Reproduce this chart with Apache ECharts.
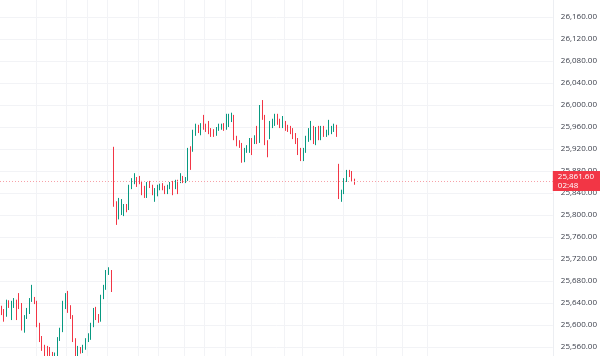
<!DOCTYPE html>
<html>
<head>
<meta charset="utf-8">
<script src="https://cdn.jsdelivr.net/npm/echarts@6/dist/echarts.min.js"></script>
<style>
html,body{margin:0;padding:0;background:#fff;overflow:hidden;width:600px;height:356px;}
#chart{position:absolute;left:0;top:-5px;width:600px;height:374px;}
</style>
</head>
<body>
<div id="chart"></div>
<script>
// total number of time slots shown on the x axis (data + empty future space)
const slotCount = 216;

// OHLC rows: [open, close, low, high]
const segmentA = [
  [25631,25622,25618,25635],[25627,25618,25606,25629],[25620,25640,25615,25646],[25642,25636,25631,25645],
  [25613,25640,25609,25644],[25636,25644,25631,25649],[25640,25613,25609,25646],[25640,25633,25629,25658],
  [25636,25596,25590,25640],[25596,25615,25586,25618],[25615,25627,25611,25631],[25624,25646,25620,25649],
  [25646,25649,25642,25673],[25649,25642,25638,25651],[25642,25600,25596,25644],[25600,25573,25569,25604],
  [25576,25558,25553,25580],[25560,25546,25538,25564],[25558,25549,25540,25562],[25555,25550,25542,25560],
  [25548,25535,25528,25551],[25535,25545,25525,25550],[25544,25576,25538,25578],[25576,25591,25571,25595],
  [25591,25640,25587,25644],[25633,25640,25629,25658],[25655,25627,25622,25662],[25633,25615,25611,25636],
  [25615,25573,25569,25618],[25573,25544,25536,25576],[25544,25558,25540,25562],[25556,25553,25548,25560],
  [25555,25560,25549,25564],[25560,25573,25555,25576],[25573,25582,25569,25585],[25578,25600,25573,25604],
  [25600,25627,25596,25631],[25618,25613,25609,25633],[25613,25609,25604,25620],[25609,25651,25606,25655],
  [25651,25669,25647,25673],[25669,25696,25664,25700],[25696,25700,25691,25705],[25696,25673,25660,25700]
];
const segmentB = [
  [25907,25822,25815,25924],[25822,25795,25782,25825],[25796,25815,25792,25831],[25805,25813,25800,25829],
  [25804,25815,25798,25820],[25815,25811,25805,25820],[25813,25851,25809,25855],[25851,25864,25847,25867],
  [25860,25867,25856,25876],[25864,25855,25851,25869],[25867,25860,25856,25871],[25858,25840,25836,25862],
  [25851,25836,25831,25853],[25836,25855,25831,25860],[25858,25853,25849,25862],[25851,25840,25836,25855],
  [25842,25846,25824,25849],[25838,25851,25834,25855],[25849,25853,25845,25857],[25855,25849,25845,25858],
  [25849,25842,25838,25853],[25842,25851,25838,25855],[25851,25856,25847,25860],[25858,25840,25836,25862],
  [25851,25860,25847,25864],[25860,25842,25838,25864],[25862,25867,25858,25876],[25867,25862,25858,25871],
  [25862,25866,25858,25869]
];
const segmentC = [
  [25867,25918,25862,25922],[25920,25910,25882,25925],[25927,25951,25915,25955],[25949,25960,25944,25966],
  [25960,25953,25949,25964],[25951,25964,25945,25967],[25967,25960,25955,25982],[25962,25955,25951,25966],
  [25958,25953,25947,25971],[25955,25945,25942,25958],[25953,25947,25942,25956],[25947,25957,25944,25960],
  [25957,25962,25953,25966],[25958,25962,25955,25966],[25964,25957,25953,25967],[25958,25966,25955,25984],
  [25964,25975,25960,25984],[25973,25982,25969,25986],[25978,25940,25936,25982],[25940,25931,25925,25944],
  [25933,25927,25922,25936],[25927,25913,25895,25931],[25915,25918,25896,25922],[25918,25922,25913,25927],
  [25918,25936,25913,25940],[25936,25913,25909,25940],[25933,25942,25929,25945],[25942,25933,25929,25962],
  [25936,25996,25931,26000],[25996,25978,25973,26009],[25978,25931,25927,25982],[25933,25918,25905,25936],
  [25942,25967,25938,25971],[25964,25971,25958,25975],[25967,25978,25962,25984],[25978,25969,25964,25984],
  [25971,25962,25958,25975],[25962,25967,25958,25980],[25967,25958,25953,25971],[25960,25955,25951,25964],
  [25958,25951,25947,25962],[25955,25942,25938,25958],[25945,25933,25929,25949],[25936,25913,25909,25940],
  [25918,25907,25898,25922],[25909,25918,25898,25922],[25918,25940,25913,25944],[25938,25955,25933,25958],
  [25940,25960,25936,25971],[25958,25933,25929,25962],[25931,25955,25927,25960],[25958,25940,25936,25962],
  [25940,25958,25936,25962],[25958,25947,25942,25962],[25945,25951,25942,25955],[25949,25955,25945,25973],
  [25951,25958,25947,25962],[25955,25962,25951,25966],[25962,25947,25942,25964]
];
const segmentD = [
  [25891,25833,25829,25893],[25833,25842,25824,25846],[25842,25864,25838,25867],[25864,25878,25860,25882],
  [25878,25873,25869,25882],[25875,25864,25860,25880],[25864,25861.6,25855,25866]
];

// price scale
const priceMin = 25520;
const priceMax = 26200;
const priceStep = 40;

// last price tag
const lastPrice = 25861.60;
const lastPriceText = '25,861.60';
const countdownText = '02:48';

// slots where vertical grid lines are drawn
const vGridSlots = [14, 26, 34, 42, 54, 62, 72, 80, 88, 98, 111, 118, 134, 147, 157, 167];

const ohlc = segmentA.concat(segmentB, segmentC, segmentD);
const categories = [];
for (let i = 0; i < slotCount; i++) categories.push(String(i));

const fmt = v => v.toLocaleString('en-US', {minimumFractionDigits: 2, maximumFractionDigits: 2});

const chart = echarts.init(document.getElementById('chart'), null, {renderer: 'canvas'});
chart.setOption({
  animation: false,
  backgroundColor: '#ffffff',
  grid: {left: 0, right: 43, top: 0, bottom: 0, containLabel: false},
  xAxis: {
    type: 'category',
    data: categories,
    boundaryGap: true,
    axisLine: {show: false},
    axisTick: {show: false},
    axisLabel: {show: false},
    splitLine: {
      show: true,
      interval: (idx) => vGridSlots.includes(idx),
      lineStyle: {color: '#f2f3f6', width: 1}
    }
  },
  yAxis: {
    type: 'value',
    position: 'right',
    min: priceMin,
    max: priceMax,
    interval: priceStep,
    axisLine: {show: true, lineStyle: {color: '#eceef2'}},
    axisTick: {show: false},
    axisLabel: {
      color: '#3a3e4a',
      fontSize: 8,
      fontFamily: 'Open Sans, sans-serif',
      margin: 8,
      showMaxLabel: false,
      showMinLabel: false,
      formatter: v => fmt(v)
    },
    splitLine: {show: true, lineStyle: {color: '#f2f3f6', width: 1}}
  },
  series: [{
    type: 'candlestick',
    data: ohlc,
    barWidth: 1,
    itemStyle: {
      color: '#089981',
      color0: '#f23645',
      borderColor: '#089981',
      borderColor0: '#f23645',
      borderWidth: 1
    },
    markLine: {
      silent: true,
      symbol: ['none', 'none'],
      lineStyle: {color: '#f7a1a8', type: [1, 2], width: 1},
      label: {
        show: true,
        position: 'end',
        distance: 0,
        formatter: lastPriceText + '\n' + countdownText,
        backgroundColor: '#f23645',
        color: '#ffffff',
        fontSize: 8,
        lineHeight: 9.5,
        fontFamily: 'Open Sans, sans-serif',
        padding: [1, 6, 0, 5],
        align: 'left'
      },
      data: [{yAxis: lastPrice}]
    }
  }]
});
</script>
</body>
</html>
